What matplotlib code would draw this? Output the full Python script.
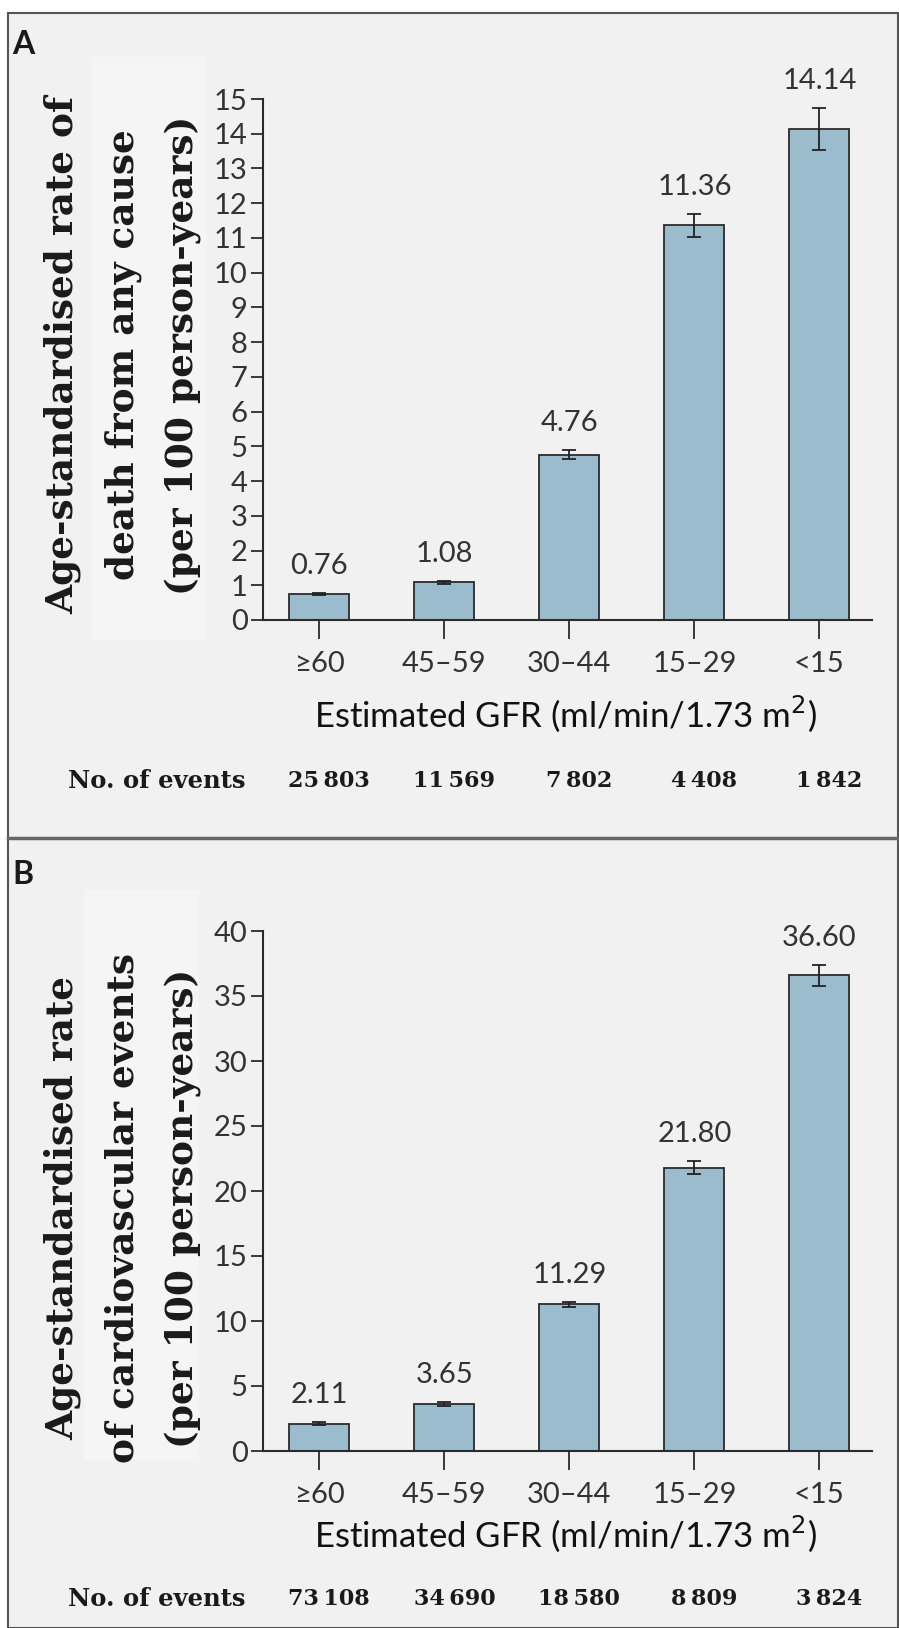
import numpy as np
import matplotlib.pyplot as plt
from matplotlib.patches import Rectangle

# data
groups = ['≥60', '45–59', '30–44', '15–29', '<15']

rate_a = [0.76, 1.08, 4.76, 11.36, 14.14]
err_a = [0.03, 0.04, 0.13, 0.32, 0.6]
events_a = ['25\u2009803', '11\u2009569', '7\u2009802', '4\u2009408', '1\u2009842']
yticks_a = list(range(0, 16))

rate_b = [2.11, 3.65, 11.29, 21.80, 36.60]
err_b = [0.12, 0.15, 0.2, 0.5, 0.8]
events_b = ['73\u2009108', '34\u2009690', '18\u2009580', '8\u2009809', '3\u2009824']
yticks_b = list(range(0, 41, 5))

ylab_a = 'Age-standardised rate of\ndeath from any cause\n(per 100 person-years)'
ylab_b = 'Age-standardised rate\nof cardiovascular events\n(per 100 person-years)'
xlab = 'Estimated GFR (ml/min/1.73 m$^2$)'

W, H = 899, 1628
sans = ['Lato', 'DejaVu Sans']
serif = 'DejaVu Serif'
bar_col = '#9bbccd'
edge = '#2b2b2b'

fig = plt.figure(figsize=(W / 100, H / 100), dpi=100, facecolor='white')


def fx(px):
    return px / W


def fy(py):
    return 1 - py / H


# outer frame and background
fig.patches.append(Rectangle((fx(8), 0), fx(890), fy(13), transform=fig.transFigure,
                             facecolor='#f1f1f1', edgecolor='#555555', lw=1.5, zorder=-3))
fig.patches.append(Rectangle((fx(92), fy(640)), fx(115), fy(57) - fy(640), transform=fig.transFigure,
                             facecolor='#f5f5f5', edgecolor='none', zorder=-2))
fig.patches.append(Rectangle((fx(84), fy(1460)), fx(115), fy(890) - fy(1460), transform=fig.transFigure,
                             facecolor='#f5f5f5', edgecolor='none', zorder=-2))
fig.lines.append(plt.Line2D([fx(8), fx(898)], [fy(838), fy(838)], transform=fig.transFigure,
                            color='#666666', lw=2.5))


def panel(top, bottom, rates, errs, ticks, ymax, ylab, ylab_y, events, xlab_y, ev_y, letter, letter_y):
    ax = fig.add_axes([fx(263), fy(bottom), fx(872 - 263), fy(top) - fy(bottom)])
    ax.set_facecolor('none')
    x = np.arange(len(groups))
    ax.bar(x, rates, width=0.48, color=bar_col, edgecolor=edge, linewidth=1.3, zorder=2)
    ax.errorbar(x, rates, yerr=errs, fmt='none', ecolor='#222222', elinewidth=1.3,
                capsize=5, capthick=1.3, zorder=3)
    for xi, r, e in zip(x, rates, errs):
        ax.annotate(f'{r:.2f}', (xi, r + e), xytext=(0, 10), textcoords='offset points',
                    ha='center', va='bottom', fontsize=21, family=sans, color='#333333')
    ax.set_xlim(-0.45, 4.42)
    ax.set_ylim(0, ymax)
    ax.set_yticks(ticks)
    ax.set_xticks(x)
    ax.set_xticklabels(groups, family=sans, fontsize=21, color='#333333')
    for lab in ax.get_yticklabels():
        lab.set_family(sans)
        lab.set_fontsize(21)
        lab.set_color('#333333')
    ax.tick_params(axis='y', length=9, width=1.3, pad=2, color=edge)
    ax.tick_params(axis='x', length=14, width=1.3, pad=8, color=edge)
    for s in ['top', 'right']:
        ax.spines[s].set_visible(False)
    for s in ['left', 'bottom']:
        ax.spines[s].set_linewidth(1.5)
        ax.spines[s].set_color(edge)

    fig.text(fx(123), fy(ylab_y), ylab, rotation=90, ha='center', va='center',
             family=serif, weight='bold', fontsize=27, linespacing=1.8, color='#1a1a1a')
    fig.text(fx(566), fy(xlab_y), xlab, ha='center', va='center', family=sans,
             fontsize=25, color='#111111')
    fig.text(fx(157), fy(ev_y), 'No. of events', ha='center', va='center', family=serif,
             weight='bold', fontsize=17.5, color='#1a1a1a')
    for xi, ev in zip(x, events):
        xd = ax.transData.transform((xi, 0))[0]
        fig.text(xd / W + fx(10), fy(ev_y), ev, ha='center', va='center', family=serif,
                 weight='bold', fontsize=16, color='#1a1a1a')
    fig.text(fx(12), fy(letter_y), letter, ha='left', va='center', family=sans,
             weight='bold', fontsize=23, color='#1a1a1a')


panel(99, 620, rate_a, err_a, yticks_a, 15, ylab_a, 355, events_a, 714, 781, 'A', 44)
panel(931, 1451, rate_b, err_b, yticks_b, 40, ylab_b, 1208, events_b, 1534, 1599, 'B', 875)

fig.savefig('out.png', dpi=100, facecolor='white')
